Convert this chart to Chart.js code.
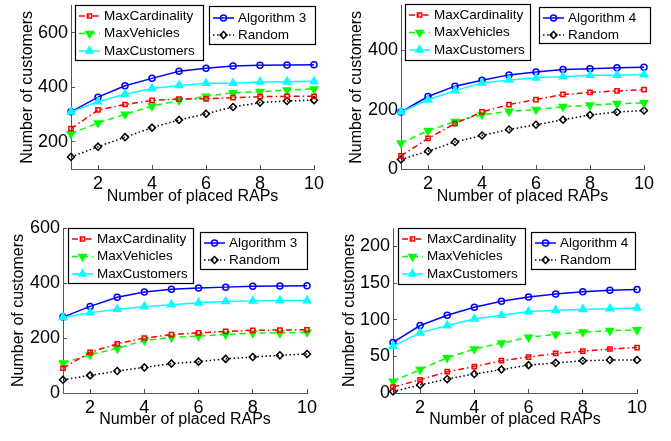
<!DOCTYPE html>
<html><head><meta charset="utf-8">
<script src="https://cdn.jsdelivr.net/npm/chart.js@4"></script>
<style>
html,body{margin:0;padding:0;background:#fff;width:671px;height:441px;overflow:hidden}
.p{position:absolute}
canvas{display:block}
</style></head><body>
<div class="p" style="left:0px;top:0px"><canvas id="c1" width="335" height="220"></canvas></div>
<div class="p" style="left:330px;top:0px"><canvas id="c2" width="341" height="220"></canvas></div>
<div class="p" style="left:0px;top:220px"><canvas id="c3" width="335" height="221"></canvas></div>
<div class="p" style="left:330px;top:220px"><canvas id="c4" width="341" height="221"></canvas></div>
<script>
// ---- data ----
const xValues = [1, 2, 3, 4, 5, 6, 7, 8, 9, 10];
const xTicks = [2, 4, 6, 8, 10];
const xTitle = 'Number of placed RAPs';
const yTitle = 'Number of customers';

// top-left
const tlMaxCardinality = [248, 317, 337, 352, 357, 358, 362, 366, 367, 367];
const tlMaxVehicles    = [229, 269, 301, 331, 352, 367, 380, 384, 390, 394];
const tlMaxCustomers   = [310, 347, 375, 396, 407, 415, 415, 420, 421, 422];
const tlAlgorithm3     = [310, 364, 406, 433, 459, 470, 478, 481, 482, 483];
const tlRandom         = [144, 182, 217, 252, 280, 303, 328, 344, 350, 353];
const tlYTicks = [200, 400, 600];

// top-right
const trMaxCardinality = [44, 103, 153, 192, 217, 234, 251, 258, 263, 267];
const trMaxVehicles    = [87, 129, 160, 183, 194, 200, 210, 215, 220, 223];
const trMaxCustomers   = [192, 233, 264, 290, 300, 307, 311, 316, 316, 318];
const trAlgorithm4     = [192, 244, 279, 299, 317, 327, 335, 338, 341, 343];
const trRandom         = [32, 60, 91, 113, 133, 149, 166, 182, 192, 197];
const trYTicks = [0, 200, 400];

// bottom-left
const blMaxCardinality = [90, 148, 179, 200, 212, 219, 224, 228, 229, 230];
const blMaxVehicles    = [109, 139, 162, 191, 202, 207, 213, 218, 218, 221];
const blMaxCustomers   = [275, 292, 305, 314, 321, 328, 333, 335, 336, 336];
const blAlgorithm3     = [276, 315, 348, 367, 377, 382, 385, 388, 389, 390];
const blRandom         = [48, 64, 80, 93, 107, 114, 124, 131, 137, 142];
const blYTicks = [0, 200, 400, 600];

// bottom-right
const brMaxCardinality = [8, 18, 29, 36, 44, 49, 54, 57, 60, 62];
const brMaxVehicles    = [16, 32, 48, 60, 68, 76, 80, 83, 85, 86];
const brMaxCustomers   = [64, 82, 92, 101, 106, 111, 113, 114, 115, 116];
const brAlgorithm4     = [69, 92, 106, 117, 125, 131, 135, 138, 140, 141];
const brRandom         = [2, 11, 19, 26, 32, 38, 41, 44, 45, 45];
const brYTicks = [0, 50, 100, 150, 200];

// ---- styles ----
const FONT = '"Liberation Sans", Arial, Helvetica, sans-serif';
const AXIS = '#555555';
const styles = [
  {color: '#ff0000', dash: [6, 3, 1.5, 3], ps: 'rect', r: 3, rot: 0, filled: false},
  {color: '#00ff00', dash: [6, 4], ps: 'triangle', r: 4.2, rot: 180, filled: true},
  {color: '#00ffff', dash: [], ps: 'triangle', r: 4.2, rot: 0, filled: true},
  {color: '#0000ff', dash: [], ps: 'circle', r: 3, rot: 0, filled: false},
  {color: '#000000', dash: [1.5, 2.5], ps: 'rectRot', r: 3.5, rot: 0, filled: false}
];

function makeDatasets(labels, series) {
  return series.map((vals, i) => {
    const s = styles[i];
    return {
      label: labels[i],
      data: vals.map((v, k) => ({x: xValues[k], y: v})),
      borderColor: s.color, borderWidth: 1.5, borderDash: s.dash,
      pointStyle: s.ps, pointRadius: s.r, pointRotation: s.rot,
      pointBackgroundColor: s.filled ? s.color : 'rgba(0,0,0,0)',
      pointBorderColor: s.color, pointBorderWidth: 1.5,
      tension: 0, fill: false, clip: false, order: i
    };
  });
}

const legendBoxes = {
  id: 'legendBoxes',
  afterDatasetsDraw(chart, args, opts) {
    const ctx = chart.ctx;
    (opts.boxes || []).forEach(b => {
      ctx.save();
      ctx.fillStyle = '#fff';
      ctx.fillRect(b.x, b.y, b.w, b.h);
      ctx.strokeStyle = '#000'; ctx.lineWidth = 1.2; ctx.setLineDash([]);
      ctx.strokeRect(b.x + 0.5, b.y + 0.5, b.w, b.h);
      b.items.forEach((di, k) => {
        const ds = chart.data.datasets[di];
        const y = b.y + b.row0 + k * b.gap;
        const x0 = b.x + 4, x1 = b.x + 25;
        ctx.strokeStyle = ds.borderColor; ctx.lineWidth = ds.borderWidth;
        ctx.setLineDash(ds.borderDash || []);
        ctx.beginPath(); ctx.moveTo(x0, y); ctx.lineTo(x1, y); ctx.stroke();
        ctx.setLineDash([]);
        ctx.fillStyle = ds.pointBackgroundColor; ctx.strokeStyle = ds.pointBorderColor;
        ctx.lineWidth = ds.pointBorderWidth;
        Chart.helpers.drawPoint(ctx, {pointStyle: ds.pointStyle, radius: ds.pointRadius,
          rotation: ds.pointRotation || 0, borderWidth: ds.pointBorderWidth}, (x0 + x1) / 2, y);
        ctx.fillStyle = '#000'; ctx.font = '13.5px ' + FONT;
        ctx.textBaseline = 'middle'; ctx.textAlign = 'left';
        ctx.fillText(ds.label, b.x + 29, y);
      });
      ctx.restore();
    });
  }
};

function makeChart(id, labels, series, yMin, yMax, yTicks, L) {
  return new Chart(document.getElementById(id), {
    type: 'line',
    data: {datasets: makeDatasets(labels, series)},
    plugins: [legendBoxes],
    options: {
      responsive: false, animation: false, events: [],
      layout: {padding: {left: 0, right: L.right, top: L.top, bottom: 0}},
      plugins: {legend: {display: false}, tooltip: {enabled: false}, legendBoxes: {boxes: L.boxes}},
      scales: {
        x: {
          type: 'linear', min: 1, max: 10,
          afterBuildTicks: s => { s.ticks = xTicks.map(v => ({value: v})); },
          afterFit: s => { s.height = L.xh; s.paddingLeft = 0; s.paddingRight = 0; },
          ticks: {font: {family: FONT, size: 18}, color: '#000', padding: 8, maxRotation: 0, autoSkip: false},
          grid: {display: true, drawOnChartArea: false, drawTicks: true, tickLength: -4, color: AXIS, lineWidth: 1},
          border: {display: true, color: AXIS, width: 1},
          title: {display: true, text: xTitle, color: '#000', font: {family: FONT, size: 16},
                  padding: {top: 0, bottom: L.xtb}}
        },
        y: {
          type: 'linear', min: yMin, max: yMax,
          afterBuildTicks: s => { s.ticks = yTicks.map(v => ({value: v})); },
          afterFit: s => { s.width = L.yw; s.paddingTop = 0; s.paddingBottom = 0; },
          ticks: {font: {family: FONT, size: 18}, color: '#000', padding: 7, autoSkip: false},
          grid: {display: true, drawOnChartArea: false, drawTicks: true, tickLength: -4, color: AXIS, lineWidth: 1},
          border: {display: true, color: AXIS, width: 1},
          title: {display: true, text: yTitle, color: '#000', font: {family: FONT, size: 16},
                  padding: {top: L.ytt, bottom: 0}}
        }
      }
    }
  });
}

const leftLabels = ['MaxCardinality', 'MaxVehicles', 'MaxCustomers'];

makeChart('c1', [...leftLabels, 'Algorithm 3', 'Random'],
  [tlMaxCardinality, tlMaxVehicles, tlMaxCustomers, tlAlgorithm3, tlRandom],
  100, 700, tlYTicks,
  {right: 21, top: 4, xh: 51, yw: 71, xtb: 13.4, ytt: 18.4,
   boxes: [{x: 75, y: 5, w: 128, h: 55, row0: 11, gap: 17.5, items: [0, 1, 2]},
           {x: 209, y: 6, w: 106, h: 38, row0: 12, gap: 17, items: [3, 4]}]});

makeChart('c2', [...leftLabels, 'Algorithm 4', 'Random'],
  [trMaxCardinality, trMaxVehicles, trMaxCustomers, trAlgorithm4, trRandom],
  0, 550, trYTicks,
  {right: 27, top: 4, xh: 51, yw: 71, xtb: 13.4, ytt: 17.4,
   boxes: [{x: 75, y: 4, w: 125, h: 56, row0: 11, gap: 17.5, items: [0, 1, 2]},
           {x: 209, y: 7, w: 111, h: 36, row0: 11, gap: 17, items: [3, 4]}]});

makeChart('c3', [...leftLabels, 'Algorithm 3', 'Random'],
  [blMaxCardinality, blMaxVehicles, blMaxCustomers, blAlgorithm3, blRandom],
  0, 600, blYTicks,
  {right: 28, top: 8, xh: 48, yw: 63, xtb: 11.4, ytt: 9,
   boxes: [{x: 68, y: 8, w: 125, h: 55, row0: 11, gap: 17.5, items: [0, 1, 2]},
           {x: 200, y: 12, w: 107, h: 37, row0: 11, gap: 17, items: [3, 4]}]});

makeChart('c4', [...leftLabels, 'Algorithm 4', 'Random'],
  [brMaxCardinality, brMaxVehicles, brMaxCustomers, brAlgorithm4, brRandom],
  0, 225, brYTicks,
  {right: 34, top: 8, xh: 48, yw: 63, xtb: 11.4, ytt: 10.4,
   boxes: [{x: 68, y: 8, w: 127, h: 56, row0: 11, gap: 17.5, items: [0, 1, 2]},
           {x: 201, y: 12, w: 104, h: 37, row0: 11, gap: 17, items: [3, 4]}]});
</script>
</body></html>
